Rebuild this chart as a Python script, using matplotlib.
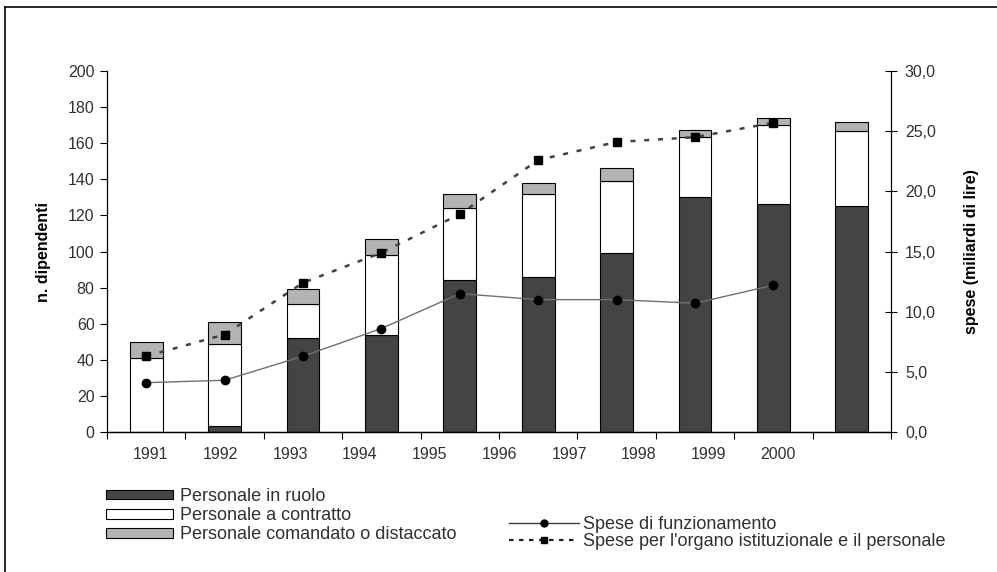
import matplotlib
matplotlib.use("Agg")
import matplotlib.pyplot as plt
from matplotlib.lines import Line2D
from matplotlib.patches import Rectangle
import numpy as np

plt.rcParams['font.family'] = ['Liberation Sans', 'DejaVu Sans']

years = ['1991', '1992', '1993', '1994', '1995', '1996', '1997', '1998', '1999', '2000']
in_ruolo = [0, 3.5, 52, 54, 84, 86, 99, 130, 126.5, 125]
a_contratto = [41, 45.5, 19, 44, 40, 46, 40, 33.5, 43.5, 42]
comandato = [9, 12, 8, 9, 8, 6, 7, 4, 4, 5]
spese_funz = [4.1, 4.3, 6.3, 8.6, 11.5, 11.0, 11.0, 10.7, 12.2]
spese_org = [6.3, 8.1, 12.4, 14.9, 18.1, 22.6, 24.1, 24.5, 25.7]
left_ticks = [0, 20, 40, 60, 80, 100, 120, 140, 160, 180, 200]
right_ticks = [0, 5, 10, 15, 20, 25, 30]
right_tick_labels = ['0,0', '5,0', '10,0', '15,0', '20,0', '25,0', '30,0']

W, H = 997, 572
fig = plt.figure(figsize=(W / 100, H / 100), dpi=100)
ax = fig.add_axes([107 / W, 1 - 432 / H, (891 - 107) / W, (432 - 71) / H])
ax2 = ax.twinx()

txt = '#303030'
dark = '#444444'
light = '#b3b3b3'

n = len(years)
x = np.arange(n)
bw = 0.42
b1 = np.array(in_ruolo)
b2 = np.array(a_contratto)
b3 = np.array(comandato)
ax.bar(x, b1, bw, color=dark, edgecolor='black', linewidth=0.8)
ax.bar(x, b2, bw, bottom=b1, color='white', edgecolor='black', linewidth=0.8)
ax.bar(x, b3, bw, bottom=b1 + b2, color=light, edgecolor='black', linewidth=0.8)

ax.set_xlim(-0.5, n - 0.5)
ax.set_ylim(0, 200)
ax.set_yticks(left_ticks)
ax.set_yticklabels([str(v) for v in left_ticks])
# category boundary ticks
ax.set_xticks(np.arange(-0.5, n, 1.0))
ax.set_xticklabels([''] * (n + 1))
# year labels (positioned as in the original, offset from bars)
lab_pos = 0.06 + 0.889 * np.arange(len(years))
ax.set_xticks(lab_pos, minor=True)
ax.set_xticklabels(years, minor=True)
ax.tick_params(axis='x', which='minor', length=0, pad=11, labelsize=11.5, labelcolor=txt)
ax.tick_params(axis='x', which='major', length=5, direction='out', color='black')
ax.tick_params(axis='y', length=5, direction='out', labelsize=11.5, labelcolor=txt, pad=4)

ax2.plot(x[:len(spese_funz)], spese_funz, color='#707070', linewidth=1.0,
         marker='o', markersize=6, markerfacecolor='black', markeredgecolor='black', zorder=5)
ax2.plot(x[:len(spese_org)], spese_org, color='#404040', linewidth=1.8, linestyle=(0, (2.0, 3.5)),
         marker='s', markersize=6, markerfacecolor='black', markeredgecolor='black', zorder=5)
ax2.set_ylim(0, 30)
ax2.set_yticks(right_ticks)
ax2.set_yticklabels(right_tick_labels)
ax2.tick_params(axis='y', length=8, direction='inout', labelsize=11.5, labelcolor=txt, pad=6)

for a in (ax, ax2):
    a.spines['top'].set_visible(False)
    for s in a.spines.values():
        s.set_linewidth(0.9)
        s.set_color('black')
ax2.spines['left'].set_visible(False)
ax.spines['right'].set_visible(False)

ax.set_ylabel('n. dipendenti', fontsize=11.5, fontweight='bold', color='black', labelpad=12)
ax2.set_ylabel('spese (miliardi di lire)', fontsize=11.5, fontweight='bold', color='black',
               rotation=90, labelpad=20)

# Legends
leg1 = [Rectangle((0, 0), 1, 1, facecolor=dark, edgecolor='black', linewidth=0.8),
        Rectangle((0, 0), 1, 1, facecolor='white', edgecolor='black', linewidth=0.8),
        Rectangle((0, 0), 1, 1, facecolor=light, edgecolor='black', linewidth=0.8)]
l1 = fig.legend(leg1, ['Personale in ruolo', 'Personale a contratto', 'Personale comandato o distaccato'],
                loc='upper left', bbox_to_anchor=(106 / W, 1 - 488 / H), frameon=False,
                fontsize=13, handlelength=3.7, handleheight=0.45, handletextpad=0.4,
                labelspacing=0.12, borderpad=0, borderaxespad=0)
for t in l1.get_texts():
    t.set_color(txt)

leg2 = [Line2D([0], [0], color='#404040', linewidth=1.0, marker='o', markersize=5,
               markerfacecolor='black', markeredgecolor='black'),
        Line2D([0], [0], color='#202020', linewidth=1.6, linestyle=(0, (2.0, 2.5)), marker='s', markersize=5,
               markerfacecolor='black', markeredgecolor='black')]
l2 = fig.legend(leg2, ['Spese di funzionamento', "Spese per l'organo istituzionale e il personale"],
                loc='upper left', bbox_to_anchor=(509 / W, 1 - 516 / H), frameon=False,
                fontsize=13, handlelength=3.9, handletextpad=0.2,
                labelspacing=0.02, borderpad=0, borderaxespad=0)
for t in l2.get_texts():
    t.set_color(txt)

# outer frame (top and left edges)
fig.add_artist(Line2D([5 / W, 1], [1 - 7 / H, 1 - 7 / H], color='black', linewidth=1.2,
                      transform=fig.transFigure))
fig.add_artist(Line2D([5 / W, 5 / W], [0, 1 - 7 / H], color='black', linewidth=1.2,
                      transform=fig.transFigure))

fig.savefig('out.png', dpi=100)
